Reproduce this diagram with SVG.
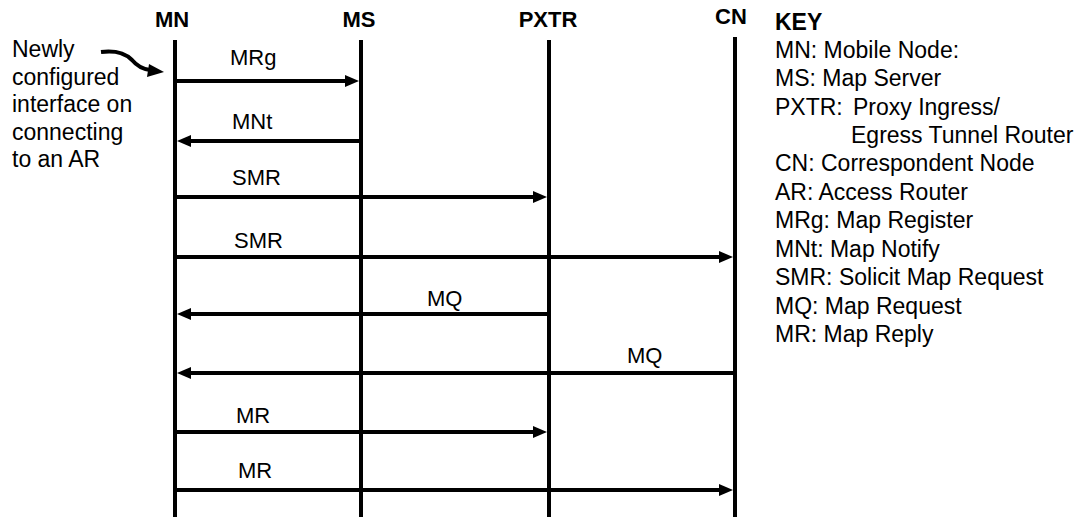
<svg xmlns="http://www.w3.org/2000/svg" width="1083" height="517" viewBox="0 0 1083 517">
<style>
text{font-family:"Liberation Sans",Arial,sans-serif;fill:#000}
.hdr{font-size:22px;font-weight:bold}
.lbl{font-size:22px}
.key{font-size:23px}
.note{font-size:23px}
.life{stroke:#000;stroke-width:4;fill:none}
.msg{stroke:#000;stroke-width:4;fill:none;marker-end:url(#ah)}
</style>
<defs>
<marker id="ah" markerUnits="userSpaceOnUse" markerWidth="14" markerHeight="12" refX="0" refY="6" orient="auto">
<path d="M0,0 L14,6 L0,12 z" fill="#000"/>
</marker>
</defs>
<g id="node-MN">
<text class="hdr" x="172" y="27" text-anchor="middle">MN</text>
<line class="life" x1="175" y1="40" x2="175" y2="517"/>
</g>
<g id="node-MS">
<text class="hdr" x="359" y="27" text-anchor="middle">MS</text>
<line class="life" x1="361" y1="40" x2="361" y2="517"/>
</g>
<g id="node-PXTR">
<text class="hdr" x="548" y="27" text-anchor="middle">PXTR</text>
<line class="life" x1="549" y1="40" x2="549" y2="517"/>
</g>
<g id="node-CN">
<text class="hdr" x="731" y="24" text-anchor="middle">CN</text>
<line class="life" x1="735" y1="37" x2="735" y2="517"/>
</g>
<g id="note">
<text class="note" x="12" y="57">Newly</text>
<text class="note" x="12" y="84.5">configured</text>
<text class="note" x="12" y="112">interface on</text>
<text class="note" x="12" y="139.5">connecting</text>
<text class="note" x="12" y="167">to an AR</text>
<path d="M101,52 C118,50 126,54 132,60 C137,66 142,69 150,70" stroke="#000" stroke-width="4" fill="none"/>
<polygon points="164,72 149,64 147,77" fill="#000"/>
</g>
<g id="key">
<text class="key" x="775" y="30" font-weight="bold">KEY</text>
<text class="key" x="775" y="57.5">MN: Mobile Node:</text>
<text class="key" x="775" y="86">MS: Map Server</text>
<text class="key" x="775" y="114.5">PXTR: <tspan x="853">Proxy Ingress/</tspan></text>
<text class="key" x="851" y="143">Egress Tunnel Router</text>
<text class="key" x="775" y="171">CN: Correspondent Node</text>
<text class="key" x="775" y="199.5">AR: Access Router</text>
<text class="key" x="775" y="228">MRg: Map Register</text>
<text class="key" x="775" y="256.5">MNt: Map Notify</text>
<text class="key" x="775" y="285">SMR: Solicit Map Request</text>
<text class="key" x="775" y="313.5">MQ: Map Request</text>
<text class="key" x="775" y="342">MR: Map Reply</text>
</g>
<g id="connectors">
<line class="msg" x1="177" y1="81" x2="345" y2="81"/>
<text class="lbl" x="230" y="65">MRg</text>
<line class="msg" x1="359" y1="141" x2="191" y2="141"/>
<text class="lbl" x="232" y="129">MNt</text>
<line class="msg" x1="177" y1="197" x2="533" y2="197"/>
<text class="lbl" x="232" y="185">SMR</text>
<line class="msg" x1="177" y1="257" x2="719" y2="257"/>
<text class="lbl" x="234" y="248">SMR</text>
<line class="msg" x1="551" y1="314" x2="191" y2="314"/>
<text class="lbl" x="427" y="306">MQ</text>
<line class="msg" x1="733" y1="373" x2="191" y2="373"/>
<text class="lbl" x="627" y="363">MQ</text>
<line class="msg" x1="177" y1="432" x2="533" y2="432"/>
<text class="lbl" x="236" y="423">MR</text>
<line class="msg" x1="177" y1="490" x2="719" y2="490"/>
<text class="lbl" x="238" y="478">MR</text>
</g>
</svg>
